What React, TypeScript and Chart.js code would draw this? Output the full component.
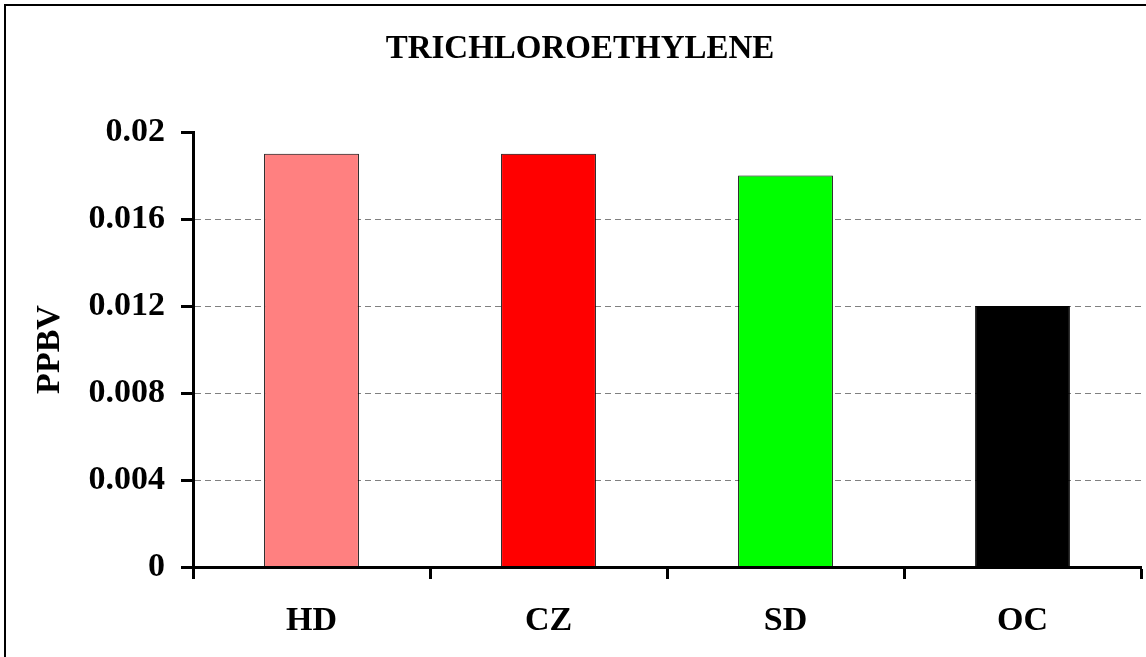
import React, { useEffect, useRef } from "react";
import { Chart, registerables } from "chart.js";

Chart.register(...registerables);

const chartTitle = "TRICHLOROETHYLENE";
const yAxisTitle = "PPBV";
const categories = ["HD", "CZ", "SD", "OC"];
const values = [0.019, 0.019, 0.018, 0.012];
const barColors = ["#FF8080", "#FF0000", "#00FF00", "#000000"];
const yTickLabels = ["0", "0.004", "0.008", "0.012", "0.016", "0.02"];
const yMin = 0;
const yMax = 0.02;
const yStep = 0.004;

const SERIF = '"Liberation Serif", "Times New Roman", Times, serif';

export default function App() {
  const ref = useRef<HTMLCanvasElement | null>(null);

  useEffect(() => {
    document.body.style.margin = "0";
    const canvas = ref.current;
    if (!canvas) return;

    const framePlugin = {
      id: "frameAndTitle",
      beforeDraw(chart: any) {
        const { ctx, width, height } = chart;
        ctx.save();
        ctx.fillStyle = "#ffffff";
        ctx.fillRect(0, 0, width, height);
        ctx.strokeStyle = "#000000";
        ctx.lineWidth = 2;
        ctx.beginPath();
        ctx.moveTo(5, height + 5);
        ctx.lineTo(5, 5);
        ctx.lineTo(width + 5, 5);
        ctx.stroke();
        ctx.restore();
      },
      afterDraw(chart: any) {
        const { ctx } = chart;
        ctx.save();
        ctx.fillStyle = "#000000";
        ctx.font = `bold 33px ${SERIF}`;
        ctx.textAlign = "center";
        ctx.textBaseline = "middle";
        ctx.fillText(chartTitle, 580, 49);
        ctx.restore();
      },
    };

    const chart = new Chart(canvas, {
      type: "bar",
      data: {
        labels: categories,
        datasets: [
          {
            data: values,
            backgroundColor: barColors,
            borderColor: "#000000",
            borderWidth: 1,
            barPercentage: 0.4,
            categoryPercentage: 1,
          },
        ],
      },
      plugins: [framePlugin],
      options: {
        responsive: false,
        animation: false,
        devicePixelRatio: 1,
        layout: { padding: { left: 0, top: 132, right: 5, bottom: 0 } },
        plugins: {
          legend: { display: false },
          title: { display: false },
          tooltip: { enabled: false },
        },
        scales: {
          x: {
            offset: true,
            grid: {
              offset: true,
              drawOnChartArea: false,
              drawTicks: true,
              tickLength: 12,
              tickWidth: 3,
              tickColor: "#000000",
              color: "#000000",
            },
            border: { display: true, color: "#000000", width: 3, z: 1 },
            ticks: {
              color: "#000000",
              font: { family: SERIF, size: 34, weight: "bold" },
              padding: 22,
              maxRotation: 0,
            },
            afterFit(scale: any) {
              scale.height = 90;
            },
          },
          y: {
            min: yMin,
            max: yMax,
            grid: {
              color: (ctx: any) => {
                const v = ctx.tick ? ctx.tick.value : 0;
                if (v <= 1e-9 || v >= yMax - 1e-9) return "rgba(0,0,0,0)";
                return "#808080";
              },
              lineWidth: 1,
              drawTicks: true,
              tickLength: 12,
              tickWidth: 3,
              tickColor: "#000000",
              tickBorderDash: [],
            },
            border: { display: true, color: "#000000", width: 3, dash: [6, 4], z: 1 },
            ticks: {
              stepSize: yStep,
              color: "#000000",
              font: { family: SERIF, size: 34, weight: "bold" },
              padding: 16,
              callback: (_v: any, i: number) => yTickLabels[i],
            },
            title: {
              display: true,
              text: yAxisTitle,
              color: "#000000",
              font: { family: SERIF, size: 34, weight: "bold" },
              padding: { top: 30, bottom: 0 },
            },
            afterFit(scale: any) {
              scale.width = 193;
            },
          },
        },
      },
    } as any);

    return () => chart.destroy();
  }, []);

  return <canvas ref={ref} width={1146} height={657} style={{ display: "block" }} />;
}
